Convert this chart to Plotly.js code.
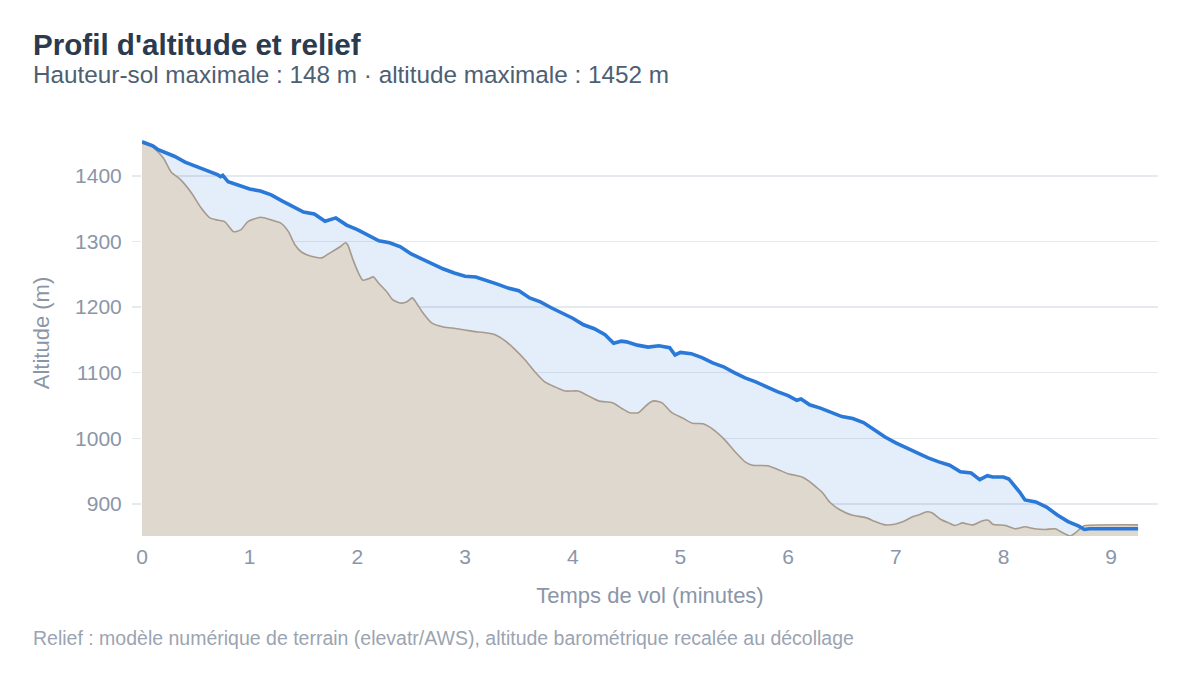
<!DOCTYPE html>
<html>
<head>
<meta charset="utf-8">
<script src="https://cdn.plot.ly/plotly-3.0.1.min.js"></script>
<style>html,body{margin:0;padding:0;background:#fff;}#chart{width:1200px;height:675px;}</style>
</head>
<body>
<div id="chart"></div>
<script>
// Flight (barometric altitude, recalibrated) — time in minutes, altitude in m
const flightTime = [0,0.05,0.1,0.15,0.2,0.25,0.3,0.4,0.5,0.6,0.7,0.73,0.75,0.8,0.9,1.0,1.1,1.2,1.3,1.4,1.5,1.6,1.7,1.8,1.9,2.0,2.1,2.2,2.3,2.4,2.5,2.6,2.7,2.8,2.9,3.0,3.1,3.2,3.3,3.4,3.5,3.6,3.7,3.8,3.9,4.0,4.1,4.2,4.3,4.38,4.45,4.5,4.6,4.7,4.8,4.9,4.95,5.0,5.1,5.2,5.3,5.4,5.5,5.6,5.7,5.8,5.9,6.0,6.08,6.12,6.2,6.3,6.4,6.5,6.6,6.7,6.8,6.9,7.0,7.1,7.2,7.3,7.4,7.5,7.6,7.7,7.78,7.85,7.9,8.0,8.05,8.1,8.15,8.2,8.3,8.4,8.5,8.6,8.7,8.75,8.8,9.25];
const flightAlt = [1452,1449,1446,1440,1437,1433,1430,1421,1415,1409,1402,1399,1401,1391,1385,1380,1377,1371,1362,1354,1345,1342,1331,1336,1325,1318,1309,1301,1298,1292,1281,1273,1266,1258,1252,1247,1246,1241,1235,1229,1225,1214,1208,1199,1191,1183,1173,1167,1158,1145,1148,1147,1142,1139,1141,1138,1127,1131,1129,1123,1115,1109,1100,1092,1086,1078,1071,1065,1058,1060,1051,1046,1040,1033,1030,1024,1013,1002,993,985,978,970,964,959,949,947,937,943,941,941,938,929,918,906,903,895,883,873,866,861,862,862];

// Terrain (DEM) — time in minutes, elevation in m
const terrainTime = [0,0.10,0.20,0.27,0.36,0.46,0.55,0.63,0.69,0.77,0.85,0.92,0.98,1.10,1.20,1.29,1.36,1.42,1.48,1.58,1.67,1.72,1.79,1.84,1.89,1.91,1.96,2.01,2.05,2.10,2.15,2.19,2.28,2.33,2.41,2.46,2.51,2.55,2.61,2.69,2.79,2.88,3.00,3.12,3.19,3.28,3.37,3.46,3.56,3.65,3.74,3.84,3.93,4.05,4.14,4.24,4.37,4.46,4.53,4.61,4.67,4.72,4.76,4.83,4.92,5.02,5.11,5.21,5.30,5.41,5.51,5.60,5.67,5.81,5.91,6.00,6.13,6.20,6.25,6.32,6.39,6.48,6.59,6.72,6.81,6.90,6.99,7.07,7.15,7.21,7.29,7.34,7.41,7.49,7.55,7.62,7.67,7.72,7.80,7.86,7.90,8.02,8.11,8.20,8.29,8.39,8.48,8.55,8.62,8.67,8.73,8.76,9.25];
const terrainAlt = [1450,1444,1427,1406,1394,1374,1351,1336,1333,1330,1315,1318,1330,1337,1333,1328,1315,1295,1284,1277,1275,1280,1287,1292,1298,1295,1272,1252,1241,1243,1246,1238,1222,1211,1206,1208,1214,1206,1191,1176,1170,1168,1165,1162,1161,1158,1149,1136,1119,1101,1086,1078,1072,1072,1065,1057,1054,1045,1039,1039,1048,1055,1057,1054,1039,1031,1023,1022,1014,998,979,964,959,958,952,946,941,934,927,917,902,891,883,879,873,868,869,873,880,883,888,886,877,871,867,871,869,868,874,875,869,867,862,865,862,861,862,856,851,856,865,867,868];

const yTicks = [900,1000,1100,1200,1300,1400];
const xTicks = [0,1,2,3,4,5,6,7,8,9];

const FONT = '"Liberation Sans", Arial, sans-serif';
const blue = '#2a79d8';

const traces = [
  { x: flightTime, y: flightAlt, type: 'scatter', mode: 'lines',
    line: {width: 0, color: blue}, fill: 'tozeroy', fillcolor: 'rgba(42,121,216,0.13)',
    hoverinfo: 'skip', showlegend: false },
  { x: terrainTime, y: terrainAlt, type: 'scatter', mode: 'lines',
    line: {width: 1.6, color: '#a69a8d', shape: 'spline', smoothing: 0.6}, fill: 'tozeroy', fillcolor: '#dfd8ce',
    showlegend: false },
  { x: flightTime, y: flightAlt, type: 'scatter', mode: 'lines',
    line: {width: 3.6, color: blue}, showlegend: false }
];

const layout = {
  width: 1200, height: 675,
  paper_bgcolor: '#ffffff', plot_bgcolor: '#ffffff',
  margin: {l: 142, r: 42, t: 130, b: 139},
  font: {family: FONT, color: '#8a96a8'},
  showlegend: false,
  xaxis: {
    range: [0, 9.435], tickvals: xTicks, ticktext: xTicks.map(String),
    showgrid: false, zeroline: false, showline: false, ticks: '',
    tickfont: {size: 21, color: '#8a96a8'}, ticklabelstandoff: 6,
    title: {text: 'Temps de vol (minutes)', font: {size: 22, color: '#8a96a8'}, standoff: 20}
  },
  yaxis: {
    range: [851, 1470], tickvals: yTicks, ticktext: yTicks.map(String),
    showgrid: true, gridcolor: '#e6e9ee', gridwidth: 1.3, zeroline: false, showline: false,
    ticks: 'outside', ticklen: 9, tickcolor: '#e6e9ee', tickwidth: 1.3,
    tickfont: {size: 21, color: '#8a96a8'}, ticklabelstandoff: 6,
    title: {text: 'Altitude (m)', font: {size: 22, color: '#8a96a8'}, standoff: 19}
  },
  annotations: [
    { text: "<b>Profil d'altitude et relief</b>", xref: 'paper', yref: 'paper',
      x: -0.1093, y: 1.2118, xanchor: 'left', yanchor: 'middle', showarrow: false,
      font: {size: 29.6, color: '#2b3a4c', family: FONT} },
    { text: 'Hauteur-sol maximale : 148 m · altitude maximale : 1452 m', xref: 'paper', yref: 'paper',
      x: -0.1093, y: 1.1355, xanchor: 'left', yanchor: 'middle', showarrow: false,
      font: {size: 24.3, color: '#4d6072', family: FONT} },
    { text: 'Relief : modèle numérique de terrain (elevatr/AWS), altitude barométrique recalée au décollage',
      xref: 'paper', yref: 'paper', x: -0.1093, y: -0.2512, xanchor: 'left', yanchor: 'middle', showarrow: false,
      font: {size: 19.5, color: '#9ba4b1', family: FONT} }
  ]
};

Plotly.newPlot('chart', traces, layout, {displayModeBar: false, staticPlot: true});
</script>
</body>
</html>
